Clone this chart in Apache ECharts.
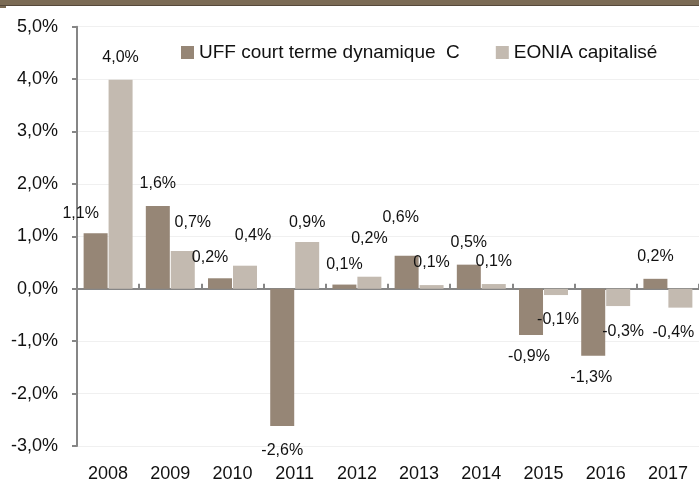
<!DOCTYPE html>
<html>
<head>
<meta charset="utf-8">
<script src="https://cdn.jsdelivr.net/npm/echarts@6/dist/echarts.min.js"></script>
<style>
html,body{margin:0;padding:0;background:#fff;}
#chart{width:699px;height:483px;}
</style>
</head>
<body>
<div id="chart"></div>
<script>
const categories = ['2008','2009','2010','2011','2012','2013','2014','2015','2016','2017'];
const uffValues = [1.06, 1.58, 0.20, -2.62, 0.08, 0.63, 0.46, -0.88, -1.28, 0.19];
const eoniaValues = [3.99, 0.72, 0.44, 0.89, 0.23, 0.07, 0.09, -0.12, -0.33, -0.36];
const seriesNames = ['UFF court terme dynamique  C', 'EONIA capitalisé'];

// manual label nudges (layout only)
const uffLabelOffsets = [[-15,2],[0,0],[-10,1],[0,3],[0,2],[-6,-16],[0,0],[-2,0],[-2,0],[0,0]];
const eoniaLabelOffsets = [[0,0],[10,-6],[8,-8],[0,2],[0,-16],[0,0],[0,0],[2,3],[5,4],[-7,3]];

const FONT = 'Liberation Sans';
const fmt = v => v.toFixed(1).replace('.', ',') + '%';

function buildData(values, offsets) {
  return values.map((v, i) => ({
    value: v,
    label: { position: v >= 0 ? 'top' : 'bottom', offset: offsets[i] }
  }));
}

const chart = echarts.init(document.getElementById('chart'), null, {renderer: 'canvas'});
const labelStyle = {
  show: true, distance: 13, fontSize: 16, lineHeight: 18, fontFamily: FONT, color: '#111111',
  formatter: p => fmt(p.value)
};
chart.setOption({
  animation: false,
  backgroundColor: '#ffffff',
  textStyle: { fontFamily: FONT },
  graphic: [
    { type: 'rect', shape: { x: 0, y: 0, width: 699, height: 5 }, style: { fill: '#7b6b55' } },
    { type: 'rect', shape: { x: 0, y: 5, width: 699, height: 1 }, style: { fill: '#55483a' } },
    { type: 'rect', shape: { x: 0, y: 6, width: 6, height: 2 }, style: { fill: '#7b6b55' } }
  ],
  legend: {
    left: 181, top: 43, padding: 0, itemWidth: 13, itemHeight: 13, itemGap: 36, icon: 'rect',
    textStyle: { fontSize: 19, fontFamily: FONT, color: '#111111' },
    data: seriesNames
  },
  grid: { left: 77, width: 626.5, top: 26.7, bottom: 36.3, containLabel: false },
  xAxis: [
    {
      type: 'category', data: categories, position: 'bottom',
      axisLine: { show: false, onZero: false }, axisTick: { show: false },
      axisLabel: { fontSize: 18, fontFamily: FONT, color: '#111111', margin: 19 },
      splitLine: { show: false }
    },
    {
      type: 'category', data: categories, position: 'bottom',
      axisLine: { show: true, onZero: true, lineStyle: { color: '#868686', width: 2 } },
      axisTick: { show: true, inside: true, length: 5, lineStyle: { color: '#868686', width: 2 } },
      axisLabel: { show: false }, splitLine: { show: false }
    }
  ],
  yAxis: {
    type: 'value', min: -3, max: 5, interval: 1,
    axisLine: { show: true, lineStyle: { color: '#868686', width: 2 } },
    axisTick: { show: true, length: 5, lineStyle: { color: '#868686', width: 2 } },
    axisLabel: { fontSize: 18, fontFamily: FONT, color: '#111111', margin: 19, formatter: v => fmt(v) },
    splitLine: { show: true, lineStyle: { color: '#f0f0f0', width: 1 } }
  },
  series: [
    {
      name: seriesNames[0], type: 'bar', xAxisIndex: 0, barWidth: 24, barGap: '4%',
      itemStyle: { color: '#968676' },
      label: labelStyle,
      data: buildData(uffValues, uffLabelOffsets)
    },
    {
      name: seriesNames[1], type: 'bar', xAxisIndex: 0, barWidth: 24, barGap: '4%',
      itemStyle: { color: '#c3bab0' },
      label: labelStyle,
      data: buildData(eoniaValues, eoniaLabelOffsets)
    }
  ]
});
</script>
</body>
</html>
